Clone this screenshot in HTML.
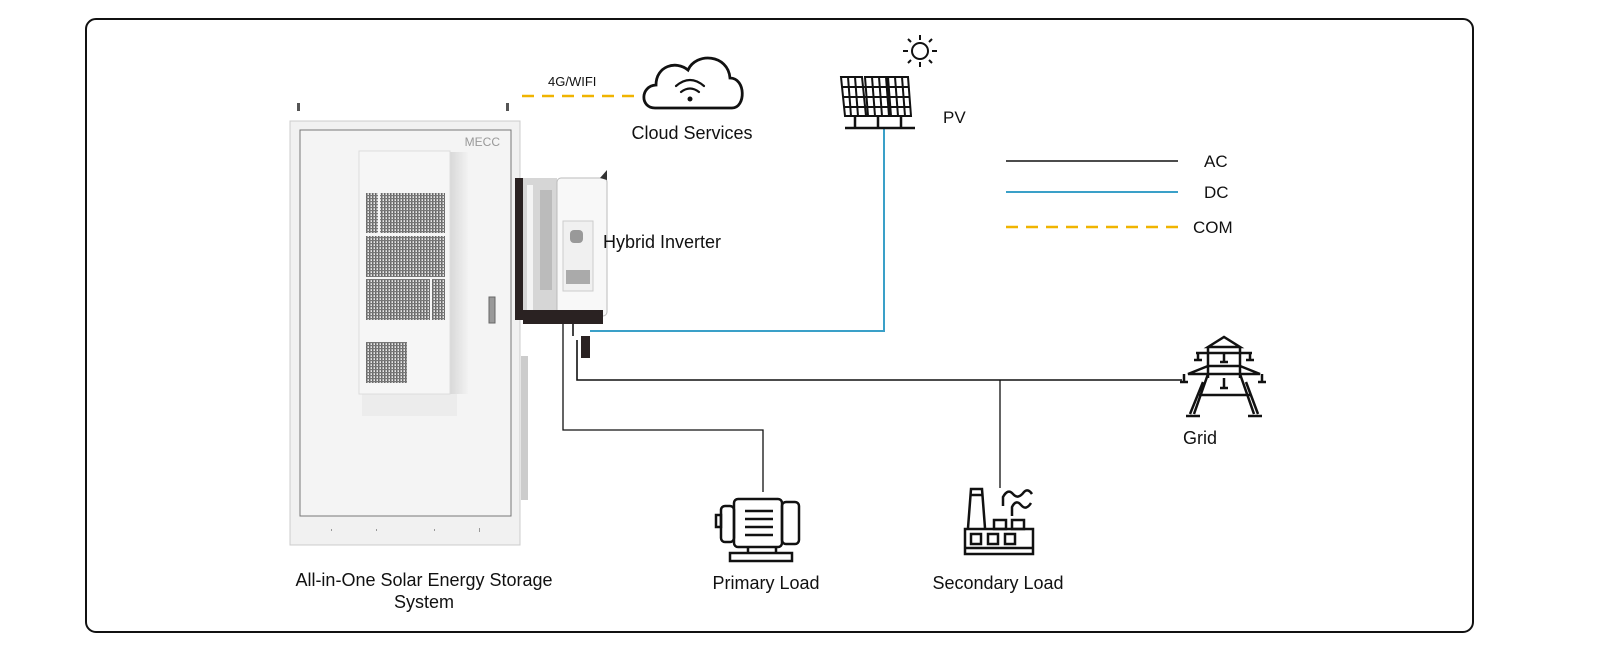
<!DOCTYPE html>
<html><head><meta charset="utf-8"><style>
html,body{margin:0;padding:0;background:#fff;}
svg{display:block;}
text{font-family:"Liberation Sans",sans-serif;fill:#111;}
</style></head><body>
<svg width="1600" height="670" viewBox="0 0 1600 670" xmlns="http://www.w3.org/2000/svg">
<defs>
<pattern id="grid" width="3" height="3" patternUnits="userSpaceOnUse">
<rect width="3" height="3" fill="#e8e8e8"/><rect width="1.5" height="3" fill="#666"/><rect width="3" height="1.2" fill="#777"/>
</pattern>
<linearGradient id="sh" x1="0" x2="1"><stop offset="0" stop-color="#d8d8d8"/><stop offset="1" stop-color="#f2f2f2"/></linearGradient>
</defs>
<rect x="86" y="19" width="1387" height="613" rx="10" fill="#fff" stroke="#111" stroke-width="2"/>

<!-- cabinet -->
<rect x="297" y="103" width="3" height="8" fill="#555"/>
<rect x="506" y="103" width="3" height="8" fill="#555"/>
<rect x="290" y="121" width="230" height="424" fill="#f1f1f1" stroke="#ccc" stroke-width="1"/>
<rect x="300" y="130" width="211" height="386" fill="#f4f4f4" stroke="#777" stroke-width="1"/>
<text x="500" y="146" font-size="12" style="fill:#999" text-anchor="end">MECC</text>
<rect x="362" y="394" width="95" height="22" fill="#e6e6e6" opacity="0.6"/>
<rect x="450" y="152" width="18" height="242" fill="url(#sh)"/>
<rect x="359" y="151" width="91" height="243" fill="#f6f6f6" stroke="#ddd"/>
<rect x="366" y="193" width="12" height="40" fill="url(#grid)"/>
<rect x="380" y="193" width="65" height="40" fill="url(#grid)"/>
<rect x="366" y="236" width="79" height="41" fill="url(#grid)"/>
<rect x="366" y="279" width="64" height="41" fill="url(#grid)"/>
<rect x="432" y="279" width="13" height="41" fill="url(#grid)"/>
<rect x="366" y="342" width="41" height="41" fill="url(#grid)"/>
<rect x="489" y="297" width="6" height="26" fill="#999" stroke="#666"/>
<rect x="521" y="356" width="7" height="144" fill="#ccc"/>
<g fill="#999"><rect x="331" y="529" width="1" height="2"/><rect x="376" y="529" width="1" height="2"/><rect x="434" y="529" width="1" height="2"/><rect x="479" y="528" width="1" height="4"/></g>

<!-- inverter -->
<rect x="515" y="178" width="8" height="142" fill="#2a2222"/>
<rect x="523" y="178" width="34" height="140" fill="#d6d6d6"/>
<rect x="527" y="185" width="6" height="125" fill="#f4f4f4"/>
<rect x="540" y="190" width="12" height="100" fill="#bbb"/>
<rect x="557" y="178" width="50" height="138" rx="4" fill="#f8f8f8" stroke="#bbb"/>
<path d="M600 178 L607 170 L607 180 Z" fill="#333"/>
<rect x="563" y="221" width="30" height="70" fill="#f0f0f0" stroke="#ccc"/>
<rect x="570" y="230" width="13" height="13" rx="4" fill="#999"/>
<rect x="566" y="270" width="24" height="14" fill="#aaa"/>
<rect x="523" y="310" width="80" height="14" fill="#2a2222"/>
<rect x="572" y="324" width="2" height="12" fill="#444"/>
<rect x="581" y="336" width="9" height="22" fill="#2a2222"/>

<!-- lines -->
<polyline points="590,331 884,331 884,128" fill="none" stroke="#3aa0c8" stroke-width="2"/>
<polyline points="577,340 577,380 1182,380" fill="none" stroke="#111" stroke-width="1.6"/>
<polyline points="563,324 563,430 763,430 763,492" fill="none" stroke="#111" stroke-width="1.3"/>
<line x1="1000" y1="380" x2="1000" y2="488" stroke="#111" stroke-width="1.3"/>
<line x1="522" y1="96" x2="636" y2="96" stroke="#f0b400" stroke-width="2.5" stroke-dasharray="12,8"/>

<!-- legend -->
<line x1="1006" y1="161" x2="1178" y2="161" stroke="#111" stroke-width="1.6"/>
<line x1="1006" y1="192" x2="1178" y2="192" stroke="#3aa0c8" stroke-width="2"/>
<line x1="1006" y1="227" x2="1178" y2="227" stroke="#f0b400" stroke-width="2.5" stroke-dasharray="12,8"/>
<text x="1204" y="167" font-size="17">AC</text>
<text x="1204" y="198" font-size="17">DC</text>
<text x="1193" y="233" font-size="17">COM</text>

<!-- cloud -->
<path d="M655 108 C640 108 640 86 656 85 C656 66 676 60 688 70 C696 52 728 54 730 78 C746 78 746 108 732 108 Z" fill="none" stroke="#111" stroke-width="2.8"/>
<g fill="none" stroke="#111" stroke-width="2.2" stroke-linecap="round">
<path d="M676 86 Q690 74 704 86"/><path d="M681 92 Q690 85 699 92"/></g>
<circle cx="690" cy="99" r="2.5" fill="#111"/>
<text x="548" y="86" font-size="13">4G/WIFI</text>
<text x="692" y="139" font-size="18" text-anchor="middle">Cloud Services</text>

<!-- sun + PV -->
<circle cx="920" cy="51" r="8" fill="none" stroke="#111" stroke-width="2"/>
<g stroke="#111" stroke-width="2">
<line x1="920" y1="35" x2="920" y2="40"/><line x1="920" y1="62" x2="920" y2="67"/>
<line x1="903" y1="51" x2="908" y2="51"/><line x1="932" y1="51" x2="937" y2="51"/>
<line x1="908" y1="39" x2="911" y2="42"/><line x1="929" y1="60" x2="932" y2="63"/>
<line x1="932" y1="39" x2="929" y2="42"/><line x1="908" y1="63" x2="911" y2="60"/>
</g>
<g fill="none" stroke="#111" stroke-width="2">
<path d="M841 77 L862 77 L866 116 L845 116 Z M865 77 L886 77 L889 116 L868 116 Z M888 77 L908 77 L911 116 L891 116 Z"/>
<path d="M842 87 L909 87 M843 97 L910 97 M844 107 L911 107 M848 77 L851 116 M855 77 L858 116 M872 77 L875 116 M879 77 L882 116 M895 77 L898 116 M902 77 L905 116"/>
<path d="M855 116 V128 M878 116 V128 M901 116 V128 M845 128 H915" stroke-width="2.5"/>
</g>
<text x="943" y="123" font-size="17">PV</text>
<text x="603" y="248" font-size="18">Hybrid Inverter</text>

<!-- tower -->
<g fill="none" stroke="#111" stroke-width="2.5">
<path d="M1208 347 L1224 337 L1240 347 Z M1208 347 V378 M1240 347 V378 M1208 366 H1240"/>
<path d="M1196 353 H1252 M1198 353 V360 M1224 353 V362 M1250 353 V360 M1194 360 H1202 M1220 362 H1228 M1246 360 H1254"/>
<path d="M1208 366 L1188 374 H1260 L1240 366 M1184 374 V382 M1224 378 V388 M1262 374 V382 M1180 382 H1188 M1220 388 H1228 M1258 382 H1266"/>
<path d="M1208 374 L1194 414 M1240 374 L1254 414 M1203 382 L1190 414 M1246 382 L1258 414 M1199 395 H1250"/>
<path d="M1186 416 H1200 M1248 416 H1262"/>
</g>
<text x="1200" y="444" font-size="18" text-anchor="middle">Grid</text>

<!-- motor -->
<g fill="none" stroke="#111" stroke-width="2.5">
<rect x="716" y="515" width="5" height="12"/>
<rect x="721" y="506" width="13" height="36" rx="4"/>
<rect x="734" y="499" width="48" height="48" rx="4"/>
<rect x="782" y="502" width="17" height="42" rx="4"/>
<path d="M745 511 H773 M745 519 H773 M745 527 H773 M745 535 H773"/>
<path d="M748 547 V553 M776 547 V553"/>
<rect x="730" y="553" width="62" height="8"/>
</g>
<text x="766" y="589" font-size="18" text-anchor="middle">Primary Load</text>

<!-- factory -->
<g fill="none" stroke="#111" stroke-width="2.5">
<path d="M968 528 L971 489 H982 L985 528"/><line x1="970" y1="495" x2="983" y2="495"/>
<rect x="994" y="520" width="12" height="9"/><rect x="1012" y="520" width="12" height="9"/>
<rect x="965" y="529" width="68" height="25"/>
<rect x="971" y="534" width="10" height="10"/><rect x="988" y="534" width="10" height="10"/><rect x="1005" y="534" width="10" height="10"/>
<line x1="965" y1="548" x2="1033" y2="548"/>
<path d="M1003 506 V497 Q1008 488 1013 494 Q1018 500 1024 492 Q1028 488 1032 494"/>
<path d="M1012 516 V507 Q1016 499 1021 505 Q1026 511 1031 503"/>
</g>
<text x="998" y="589" font-size="18" text-anchor="middle">Secondary Load</text>

<text x="424" y="586" font-size="18" text-anchor="middle">All-in-One Solar Energy Storage</text>
<text x="424" y="608" font-size="18" text-anchor="middle">System</text>
</svg>
</body></html>
